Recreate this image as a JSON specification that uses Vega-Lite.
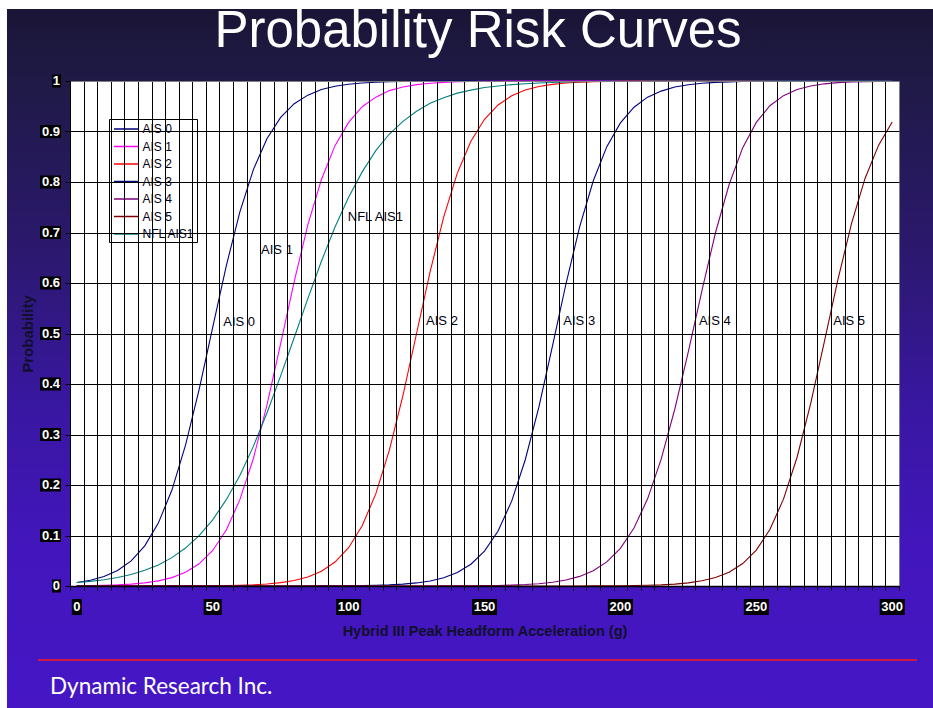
{
  "$schema": "https://vega.github.io/schema/vega-lite/v6.json",
  "width": 829,
  "height": 505,
  "autosize": {"type": "none"},
  "padding": {"left": 70, "top": 81, "right": 34, "bottom": 122},
  "background": "white",
  "config": {"view": {"stroke": "#808080", "fill": "white"}, "font": "Liberation Sans"},
  "datasets": {
    "curves": [
      {"g":0,"AIS 0":0.007,"AIS 1":0.0005,"AIS 2":0,"AIS 3":0,"AIS 4":0,"AIS 5":0,"NFL AIS1":0.0068},
      {"g":5,"AIS 0":0.0115,"AIS 1":0.0008,"AIS 2":0,"AIS 3":0,"AIS 4":0,"AIS 5":0,"NFL AIS1":0.0092},
      {"g":10,"AIS 0":0.0189,"AIS 1":0.0014,"AIS 2":0,"AIS 3":0,"AIS 4":0,"AIS 5":0,"NFL AIS1":0.0125},
      {"g":15,"AIS 0":0.0308,"AIS 1":0.0023,"AIS 2":0,"AIS 3":0,"AIS 4":0,"AIS 5":0,"NFL AIS1":0.0169},
      {"g":20,"AIS 0":0.0498,"AIS 1":0.0038,"AIS 2":0,"AIS 3":0,"AIS 4":0,"AIS 5":0,"NFL AIS1":0.0229},
      {"g":25,"AIS 0":0.0794,"AIS 1":0.0062,"AIS 2":0,"AIS 3":0,"AIS 4":0,"AIS 5":0,"NFL AIS1":0.031},
      {"g":30,"AIS 0":0.1245,"AIS 1":0.0102,"AIS 2":0.0001,"AIS 3":0,"AIS 4":0,"AIS 5":0,"NFL AIS1":0.0418},
      {"g":35,"AIS 0":0.19,"AIS 1":0.0166,"AIS 2":0.0001,"AIS 3":0,"AIS 4":0,"AIS 5":0,"NFL AIS1":0.0562},
      {"g":40,"AIS 0":0.279,"AIS 1":0.0271,"AIS 2":0.0002,"AIS 3":0,"AIS 4":0,"AIS 5":0,"NFL AIS1":0.0751},
      {"g":45,"AIS 0":0.389,"AIS 1":0.0439,"AIS 2":0.0003,"AIS 3":0,"AIS 4":0,"AIS 5":0,"NFL AIS1":0.0997},
      {"g":50,"AIS 0":0.512,"AIS 1":0.0704,"AIS 2":0.0006,"AIS 3":0,"AIS 4":0,"AIS 5":0,"NFL AIS1":0.131},
      {"g":55,"AIS 0":0.634,"AIS 1":0.111,"AIS 2":0.0009,"AIS 3":0,"AIS 4":0,"AIS 5":0,"NFL AIS1":0.171},
      {"g":60,"AIS 0":0.741,"AIS 1":0.171,"AIS 2":0.0015,"AIS 3":0,"AIS 4":0,"AIS 5":0,"NFL AIS1":0.219},
      {"g":65,"AIS 0":0.825,"AIS 1":0.253,"AIS 2":0.0025,"AIS 3":0,"AIS 4":0,"AIS 5":0,"NFL AIS1":0.277},
      {"g":70,"AIS 0":0.886,"AIS 1":0.359,"AIS 2":0.0041,"AIS 3":0,"AIS 4":0,"AIS 5":0,"NFL AIS1":0.343},
      {"g":75,"AIS 0":0.928,"AIS 1":0.48,"AIS 2":0.0067,"AIS 3":0.0001,"AIS 4":0,"AIS 5":0,"NFL AIS1":0.416},
      {"g":80,"AIS 0":0.955,"AIS 1":0.603,"AIS 2":0.011,"AIS 3":0.0001,"AIS 4":0,"AIS 5":0,"NFL AIS1":0.492},
      {"g":85,"AIS 0":0.972,"AIS 1":0.715,"AIS 2":0.018,"AIS 3":0.0001,"AIS 4":0,"AIS 5":0,"NFL AIS1":0.569},
      {"g":90,"AIS 0":0.983,"AIS 1":0.805,"AIS 2":0.0293,"AIS 3":0.0002,"AIS 4":0,"AIS 5":0,"NFL AIS1":0.643},
      {"g":95,"AIS 0":0.9895,"AIS 1":0.872,"AIS 2":0.0474,"AIS 3":0.0003,"AIS 4":0,"AIS 5":0,"NFL AIS1":0.711},
      {"g":100,"AIS 0":0.9936,"AIS 1":0.918,"AIS 2":0.0759,"AIS 3":0.0005,"AIS 4":0,"AIS 5":0,"NFL AIS1":0.77},
      {"g":105,"AIS 0":0.9961,"AIS 1":0.949,"AIS 2":0.1192,"AIS 3":0.0008,"AIS 4":0,"AIS 5":0,"NFL AIS1":0.82},
      {"g":110,"AIS 0":0.9976,"AIS 1":0.968,"AIS 2":0.1824,"AIS 3":0.0014,"AIS 4":0,"AIS 5":0,"NFL AIS1":0.862},
      {"g":115,"AIS 0":0.9986,"AIS 1":0.981,"AIS 2":0.2689,"AIS 3":0.0022,"AIS 4":0,"AIS 5":0,"NFL AIS1":0.895},
      {"g":120,"AIS 0":0.9991,"AIS 1":0.988,"AIS 2":0.3775,"AIS 3":0.0037,"AIS 4":0,"AIS 5":0,"NFL AIS1":0.92},
      {"g":125,"AIS 0":0.9995,"AIS 1":0.9928,"AIS 2":0.5,"AIS 3":0.0061,"AIS 4":0.0001,"AIS 5":0,"NFL AIS1":0.94},
      {"g":130,"AIS 0":0.9997,"AIS 1":0.9956,"AIS 2":0.6225,"AIS 3":0.01,"AIS 4":0.0001,"AIS 5":0,"NFL AIS1":0.956},
      {"g":135,"AIS 0":0.9998,"AIS 1":0.9973,"AIS 2":0.7311,"AIS 3":0.0163,"AIS 4":0.0002,"AIS 5":0,"NFL AIS1":0.967},
      {"g":140,"AIS 0":0.9999,"AIS 1":0.9984,"AIS 2":0.8176,"AIS 3":0.0266,"AIS 4":0.0003,"AIS 5":0,"NFL AIS1":0.976},
      {"g":145,"AIS 0":1,"AIS 1":0.999,"AIS 2":0.8808,"AIS 3":0.0431,"AIS 4":0.0004,"AIS 5":0,"NFL AIS1":0.982},
      {"g":150,"AIS 0":1,"AIS 1":0.9994,"AIS 2":0.9241,"AIS 3":0.0692,"AIS 4":0.0007,"AIS 5":0,"NFL AIS1":0.987},
      {"g":155,"AIS 0":1,"AIS 1":0.9996,"AIS 2":0.9526,"AIS 3":0.109,"AIS 4":0.0011,"AIS 5":0,"NFL AIS1":0.99},
      {"g":160,"AIS 0":1,"AIS 1":0.9998,"AIS 2":0.9707,"AIS 3":0.168,"AIS 4":0.0018,"AIS 5":0,"NFL AIS1":0.9928},
      {"g":165,"AIS 0":1,"AIS 1":0.9999,"AIS 2":0.982,"AIS 3":0.25,"AIS 4":0.0029,"AIS 5":0,"NFL AIS1":0.9947},
      {"g":170,"AIS 0":1,"AIS 1":1,"AIS 2":0.989,"AIS 3":0.354,"AIS 4":0.0046,"AIS 5":0,"NFL AIS1":0.9961},
      {"g":175,"AIS 0":1,"AIS 1":1,"AIS 2":0.9933,"AIS 3":0.475,"AIS 4":0.0074,"AIS 5":0.0001,"NFL AIS1":0.9971},
      {"g":180,"AIS 0":1,"AIS 1":1,"AIS 2":0.9959,"AIS 3":0.599,"AIS 4":0.0119,"AIS 5":0.0001,"NFL AIS1":0.9979},
      {"g":185,"AIS 0":1,"AIS 1":1,"AIS 2":0.9975,"AIS 3":0.711,"AIS 4":0.019,"AIS 5":0.0001,"NFL AIS1":0.9985},
      {"g":190,"AIS 0":1,"AIS 1":1,"AIS 2":0.9985,"AIS 3":0.802,"AIS 4":0.0303,"AIS 5":0.0002,"NFL AIS1":0.9989},
      {"g":195,"AIS 0":1,"AIS 1":1,"AIS 2":0.9991,"AIS 3":0.87,"AIS 4":0.0478,"AIS 5":0.0003,"NFL AIS1":0.9992},
      {"g":200,"AIS 0":1,"AIS 1":1,"AIS 2":0.9995,"AIS 3":0.917,"AIS 4":0.0746,"AIS 5":0.0005,"NFL AIS1":0.9994},
      {"g":205,"AIS 0":1,"AIS 1":1,"AIS 2":0.9997,"AIS 3":0.948,"AIS 4":0.1148,"AIS 5":0.0009,"NFL AIS1":0.9996},
      {"g":210,"AIS 0":1,"AIS 1":1,"AIS 2":0.9998,"AIS 3":0.968,"AIS 4":0.1726,"AIS 5":0.0014,"NFL AIS1":0.9997},
      {"g":215,"AIS 0":1,"AIS 1":1,"AIS 2":0.9999,"AIS 3":0.98,"AIS 4":0.2511,"AIS 5":0.0023,"NFL AIS1":0.9998},
      {"g":220,"AIS 0":1,"AIS 1":1,"AIS 2":1,"AIS 3":0.988,"AIS 4":0.35,"AIS 5":0.0038,"NFL AIS1":0.9999},
      {"g":225,"AIS 0":1,"AIS 1":1,"AIS 2":1,"AIS 3":0.9926,"AIS 4":0.464,"AIS 5":0.0062,"NFL AIS1":0.9999},
      {"g":230,"AIS 0":1,"AIS 1":1,"AIS 2":1,"AIS 3":0.9955,"AIS 4":0.585,"AIS 5":0.0103,"NFL AIS1":1},
      {"g":235,"AIS 0":1,"AIS 1":1,"AIS 2":1,"AIS 3":0.9973,"AIS 4":0.70,"AIS 5":0.0168,"NFL AIS1":1},
      {"g":240,"AIS 0":1,"AIS 1":1,"AIS 2":1,"AIS 3":0.9983,"AIS 4":0.795,"AIS 5":0.0274,"NFL AIS1":1},
      {"g":245,"AIS 0":1,"AIS 1":1,"AIS 2":1,"AIS 3":0.999,"AIS 4":0.868,"AIS 5":0.0444,"NFL AIS1":1},
      {"g":250,"AIS 0":1,"AIS 1":1,"AIS 2":1,"AIS 3":0.9994,"AIS 4":0.918,"AIS 5":0.0711,"NFL AIS1":1},
      {"g":255,"AIS 0":1,"AIS 1":1,"AIS 2":1,"AIS 3":0.9996,"AIS 4":0.951,"AIS 5":0.112,"NFL AIS1":1},
      {"g":260,"AIS 0":1,"AIS 1":1,"AIS 2":1,"AIS 3":0.9998,"AIS 4":0.971,"AIS 5":0.172,"NFL AIS1":1},
      {"g":265,"AIS 0":1,"AIS 1":1,"AIS 2":1,"AIS 3":0.9999,"AIS 4":0.983,"AIS 5":0.255,"NFL AIS1":1},
      {"g":270,"AIS 0":1,"AIS 1":1,"AIS 2":1,"AIS 3":1,"AIS 4":0.99,"AIS 5":0.361,"NFL AIS1":1},
      {"g":275,"AIS 0":1,"AIS 1":1,"AIS 2":1,"AIS 3":1,"AIS 4":0.9944,"AIS 5":0.483,"NFL AIS1":1},
      {"g":280,"AIS 0":1,"AIS 1":1,"AIS 2":1,"AIS 3":1,"AIS 4":0.9967,"AIS 5":0.606,"NFL AIS1":1},
      {"g":285,"AIS 0":1,"AIS 1":1,"AIS 2":1,"AIS 3":1,"AIS 4":0.998,"AIS 5":0.717,"NFL AIS1":1},
      {"g":290,"AIS 0":1,"AIS 1":1,"AIS 2":1,"AIS 3":1,"AIS 4":0.9988,"AIS 5":0.807,"NFL AIS1":1},
      {"g":295,"AIS 0":1,"AIS 1":1,"AIS 2":1,"AIS 3":1,"AIS 4":0.9993,"AIS 5":0.873,"NFL AIS1":1},
      {"g":300,"AIS 0":1,"AIS 1":1,"AIS 2":1,"AIS 3":1,"AIS 4":0.9996,"AIS 5":0.919,"NFL AIS1":1}
    ],
    "ann": [
      {"t":"AIS 0","g":53.9,"p":0.522},
      {"t":"AIS 1","g":67.8,"p":0.665},
      {"t":"NFL AIS1","g":99.7,"p":0.731},
      {"t":"AIS 2","g":128.5,"p":0.525},
      {"t":"AIS 3","g":179.0,"p":0.525},
      {"t":"AIS 4","g":228.9,"p":0.525},
      {"t":"AIS 5","g":278.3,"p":0.525}
    ],
    "ylab": [
      {"t":"1","v":1},{"t":"0.9","v":0.9},{"t":"0.8","v":0.8},{"t":"0.7","v":0.7},{"t":"0.6","v":0.6},
      {"t":"0.5","v":0.5},{"t":"0.4","v":0.4},{"t":"0.3","v":0.3},{"t":"0.2","v":0.2},{"t":"0.1","v":0.1},{"t":"0","v":0}
    ],
    "xlab": [
      {"t":"0","v":0},{"t":"50","v":50},{"t":"100","v":100},{"t":"150","v":150},
      {"t":"200","v":200},{"t":"250","v":250},{"t":"300","v":300}
    ]
  },
  "layer": [
    {
      "data": {"values": [{}]},
      "mark": {"type": "rect", "clip": false, "fill": {"gradient": "linear", "x1": 0, "y1": 0, "x2": 0, "y2": 1, "stops": [
        {"offset": 0, "color": "#1a1535"},
        {"offset": 0.1, "color": "#1f1a46"},
        {"offset": 0.35, "color": "#2c1870"},
        {"offset": 0.55, "color": "#3817a0"},
        {"offset": 0.75, "color": "#4216bc"},
        {"offset": 1, "color": "#4616c6"}
      ]}},
      "encoding": {
        "x": {"datum": -25.68, "type": "quantitative", "scale": {"domain": [-2.5, 302.5], "nice": false, "zero": false}},
        "x2": {"datum": 330},
        "y": {"datum": 1.1426, "type": "quantitative", "scale": {"domain": [0, 1], "nice": false, "zero": false}},
        "y2": {"datum": -0.27}
      }
    },
    {
      "data": {"values": [{}]},
      "mark": {"type": "rect", "clip": false, "fill": "white"},
      "encoding": {
        "x": {"datum": -2.5, "type": "quantitative"},
        "x2": {"datum": 302.5},
        "y": {"datum": 1, "type": "quantitative"},
        "y2": {"datum": 0}
      }
    },
    {
      "data": {"values": [{}]},
      "mark": {"type": "rule", "clip": false, "color": "#ff1a1a", "strokeWidth": 1.5},
      "encoding": {
        "x": {"datum": -14.27, "type": "quantitative"},
        "x2": {"datum": 309.1},
        "y": {"datum": -0.1465, "type": "quantitative"}
      }
    },
    {
      "data": {"values": [{"t": "Dynamic Research Inc."}]},
      "mark": {"type": "text", "clip": false, "align": "left", "baseline": "alphabetic", "font": "Lato", "fontSize": 22.5, "color": "white"},
      "encoding": {
        "x": {"datum": -9.86, "type": "quantitative"},
        "y": {"datum": -0.2139, "type": "quantitative"},
        "text": {"field": "t"}
      }
    },
    {
      "data": {"values": [{"t": "Probability Risk Curves"}]},
      "mark": {"type": "text", "clip": false, "align": "center", "baseline": "alphabetic", "font": "Liberation Sans", "fontSize": 51, "color": "white"},
      "encoding": {
        "x": {"datum": 147.6, "type": "quantitative"},
        "y": {"datum": 1.0673, "type": "quantitative"},
        "text": {"field": "t"}
      }
    },
    {
      "data": {"name": "curves"},
      "transform": [{"fold": ["AIS 0", "AIS 1", "AIS 2", "AIS 3", "AIS 4", "AIS 5", "NFL AIS1"], "as": ["s", "p"]}],
      "mark": {"type": "line", "strokeWidth": 1.1},
      "encoding": {
        "x": {"field": "g", "type": "quantitative", "scale": {"domain": [-2.5, 302.5], "nice": false, "zero": false},
          "axis": {
            "title": "Hybrid III Peak Headform Acceleration (g)",
            "values": [-2.5,2.5,7.5,12.5,17.5,22.5,27.5,32.5,37.5,42.5,47.5,52.5,57.5,62.5,67.5,72.5,77.5,82.5,87.5,92.5,97.5,102.5,107.5,112.5,117.5,122.5,127.5,132.5,137.5,142.5,147.5,152.5,157.5,162.5,167.5,172.5,177.5,182.5,187.5,192.5,197.5,202.5,207.5,212.5,217.5,222.5,227.5,232.5,237.5,242.5,247.5,252.5,257.5,262.5,267.5,272.5,277.5,282.5,287.5,292.5,297.5,302.5],
            "tickCount": 200,
            "labels": false,
            "grid": true,
            "gridColor": {"condition": {"test": "datum.value > 300", "value": "#808080"}, "value": "black"},
            "gridWidth": 1, "gridOpacity": 1,
            "ticks": true, "tickColor": "black", "tickSize": 4,
            "domainColor": "black", "domainWidth": 1.5,
            "titleFont": "Liberation Sans", "titleFontSize": 14.5, "titleFontWeight": "bold", "titleColor": "#10102a",
            "titlePadding": 34,
            "zindex": 1
          }},
        "y": {"field": "p", "type": "quantitative", "scale": {"domain": [0, 1], "nice": false, "zero": false},
          "axis": {
            "title": "Probability",
            "values": [0,0.1,0.2,0.3,0.4,0.5,0.6,0.7,0.8,0.9,1],
            "tickCount": 50,
            "labels": false,
            "grid": true,
            "gridColor": {"condition": {"test": "datum.value > 0.99", "value": "#808080"}, "value": "black"},
            "gridWidth": 1, "gridOpacity": 1,
            "ticks": true, "tickColor": "black", "tickSize": 5,
            "domainColor": "black", "domainWidth": 1,
            "titleFont": "Liberation Sans", "titleFontSize": 15, "titleFontWeight": "bold", "titleColor": "#10102a",
            "titlePadding": 29,
            "zindex": 1
          }},
        "color": {"field": "s", "type": "nominal",
          "scale": {"domain": ["AIS 0", "AIS 1", "AIS 2", "AIS 3", "AIS 4", "AIS 5", "NFL AIS1"],
                    "range": ["#000080", "#ff00ff", "#ff0000", "#000080", "#800080", "#800000", "#008080"]},
          "legend": {
            "orient": "none", "legendX": 39, "legendY": 38, "title": null,
            "fillColor": "white", "strokeColor": "black", "padding": 2,
            "symbolType": "M-0.714,0H2.714", "symbolSize": 196, "symbolStrokeWidth": 1.5,
            "labelFont": "Liberation Sans", "labelFontSize": 12, "labelColor": "#000020",
            "labelOffset": 15.5, "rowPadding": 3.5
          }}
      }
    },
    {
      "data": {"name": "ann"},
      "mark": {"type": "text", "align": "left", "baseline": "middle", "font": "Liberation Sans", "fontSize": 13, "color": "#000010"},
      "encoding": {
        "x": {"field": "g", "type": "quantitative"},
        "y": {"field": "p", "type": "quantitative"},
        "text": {"field": "t"}
      }
    },
    {
      "data": {"name": "ylab"},
      "transform": [{"filter": "length(datum.t) > 1"}],
      "mark": {"type": "point", "clip": false, "shape": "M-21,-6.5H0V6.5H-21Z", "size": 4, "filled": true, "color": "black", "opacity": 1},
      "encoding": {
        "x": {"datum": -5.81, "type": "quantitative"},
        "y": {"field": "v", "type": "quantitative"}
      }
    },
    {
      "data": {"name": "ylab"},
      "transform": [{"filter": "length(datum.t) == 1"}],
      "mark": {"type": "point", "clip": false, "shape": "M-9,-6.5H0V6.5H-9Z", "size": 4, "filled": true, "color": "black", "opacity": 1},
      "encoding": {
        "x": {"datum": -5.81, "type": "quantitative"},
        "y": {"field": "v", "type": "quantitative"}
      }
    },
    {
      "data": {"name": "ylab"},
      "mark": {"type": "text", "clip": false, "align": "right", "baseline": "middle", "dx": -1, "font": "Liberation Sans", "fontSize": 13, "fontWeight": "bold", "color": "white"},
      "encoding": {
        "x": {"datum": -5.81, "type": "quantitative"},
        "y": {"field": "v", "type": "quantitative"},
        "text": {"field": "t"}
      }
    },
    {
      "data": {"name": "xlab"},
      "transform": [{"filter": "length(datum.t) == 1"}],
      "mark": {"type": "point", "clip": false, "shape": "M-5,-8H5V8H-5Z", "size": 4, "filled": true, "color": "black", "opacity": 1},
      "encoding": {
        "x": {"field": "v", "type": "quantitative"},
        "y": {"datum": -0.0416, "type": "quantitative"}
      }
    },
    {
      "data": {"name": "xlab"},
      "transform": [{"filter": "length(datum.t) == 2"}],
      "mark": {"type": "point", "clip": false, "shape": "M-9,-8H9V8H-9Z", "size": 4, "filled": true, "color": "black", "opacity": 1},
      "encoding": {
        "x": {"field": "v", "type": "quantitative"},
        "y": {"datum": -0.0416, "type": "quantitative"}
      }
    },
    {
      "data": {"name": "xlab"},
      "transform": [{"filter": "length(datum.t) == 3"}],
      "mark": {"type": "point", "clip": false, "shape": "M-12.5,-8H12.5V8H-12.5Z", "size": 4, "filled": true, "color": "black", "opacity": 1},
      "encoding": {
        "x": {"field": "v", "type": "quantitative"},
        "y": {"datum": -0.0416, "type": "quantitative"}
      }
    },
    {
      "data": {"name": "xlab"},
      "mark": {"type": "text", "clip": false, "align": "center", "baseline": "middle", "font": "Liberation Sans", "fontSize": 13, "fontWeight": "bold", "color": "white"},
      "encoding": {
        "x": {"field": "v", "type": "quantitative"},
        "y": {"datum": -0.0416, "type": "quantitative"},
        "text": {"field": "t"}
      }
    }
  ]
}
